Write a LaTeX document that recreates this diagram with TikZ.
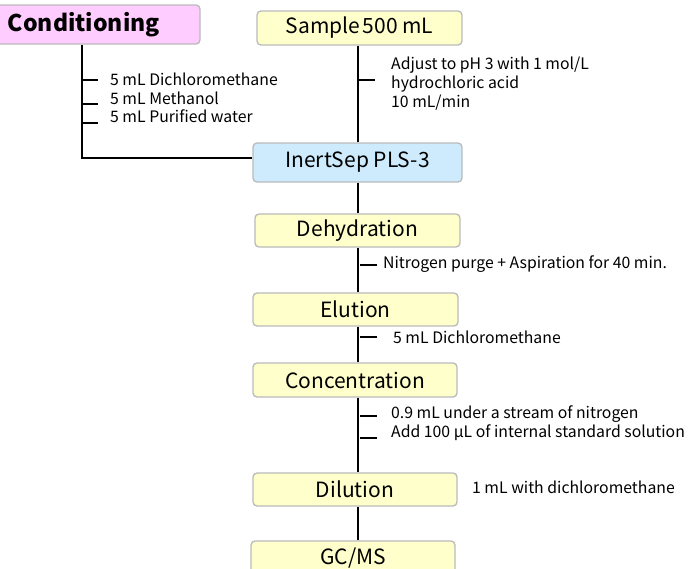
\documentclass[tikz,border=0pt]{standalone}
\usepackage{fontspec}
\setmainfont{Noto Sans CJK JP}
\definecolor{boxblue}{RGB}{205,235,252}
\definecolor{boxpink}{RGB}{255,204,255}
\definecolor{boxyel}{RGB}{255,255,204}
\begin{document}
\begin{tikzpicture}[x=1pt,y=-1pt,
  box/.style={draw=black!27,line width=1.3pt,rounded corners=4pt,inner sep=0pt,
    font=\fontsize{21}{23}\selectfont},
  yel/.style={box,fill=boxyel},
  note/.style={anchor=west,align=left,inner sep=0pt,font=\fontsize{15.8}{19}\selectfont},
  ln/.style={line width=1.6pt,black},
  tk/.style={line width=1.4pt,black}]
\useasboundingbox (0,0) rectangle (691,568);
\node[box,fill=boxpink,minimum width=205pt,minimum height=39pt,text width=205pt,align=left,
  font=\fontsize{23}{25}\selectfont\bfseries] (cond) at (97.5,24.5) {\hspace*{13pt}Conditioning};
\node[yel,minimum width=205pt,minimum height=34pt] (sample) at (359.5,28) {Sample\hspace{2.5pt}500 mL};
\node[box,fill=boxblue,minimum width=209pt,minimum height=39pt] (inert) at (357.5,162.5) {InertSep PLS-3};
\node[yel,minimum width=205pt,minimum height=33pt] (dehyd) at (357.5,230.5) {Dehydration};
\node[yel,minimum width=205pt,minimum height=33pt] (elu) at (355.5,309.5) {Elution};
\node[yel,minimum width=204pt,minimum height=34pt] (conc) at (355,380) {Concentration};
\node[yel,minimum width=204pt,minimum height=33pt] (dil) at (355,489.5) {Dilution};
\node[yel,minimum width=204pt,minimum height=34pt] (gcms) at (353,558) {GC/MS};
\coordinate (spine) at (358,0);
\coordinate (cx) at (82,0);
% conditioning line
\coordinate (cb) at (82,158);
\draw[ln] (cond.south -| cx) -- (cb) -- (cb -| inert.west);
\foreach \y in {80,104,123} \draw[tk] (82,\y) -- (98,\y);
\node[note,font=\fontsize{15.8}{18.5}\selectfont] (cnote) at (110,98) {5 mL Dichloromethane\\5 mL Methanol\\5 mL Purified water};
% spine
\draw[ln] (sample.south -| spine) -- (inert.north -| spine);
\draw[ln] (inert.south -| spine) -- (dehyd.north -| spine);
\draw[ln] (dehyd.south -| spine) -- (elu.north -| spine);
\draw[ln] (elu.south -| spine) -- (conc.north -| spine);
\draw[ln] (conc.south -| spine) -- (dil.north -| spine);
\draw[ln] (dil.south -| spine) -- (gcms.north -| spine);
\draw[tk] (358,80) -- (375,80);
\node[note] (snote) at (391,84) {Adjust to pH 3 with 1 mol/L\\hydrochloric acid\\10 mL/min};
\draw[tk] (360,265) -- (377,265);
\node[note] (dnote) at (383,264) {Nitrogen purge + Aspiration for 40 min.};
\draw[tk] (360,337) -- (377,337);
\node[note] (enote) at (393,337) {5 mL Dichloromethane};
\draw[tk] (360,416) -- (377,416);
\draw[tk] (360,438) -- (377,438);
\node[note] (cnote2) at (391,423) {0.9 mL under a stream of nitrogen\\Add 100 µL of internal standard solution};
\node[note] (dilnote) at (472,487) {1 mL with dichloromethane};
\end{tikzpicture}
\end{document}
